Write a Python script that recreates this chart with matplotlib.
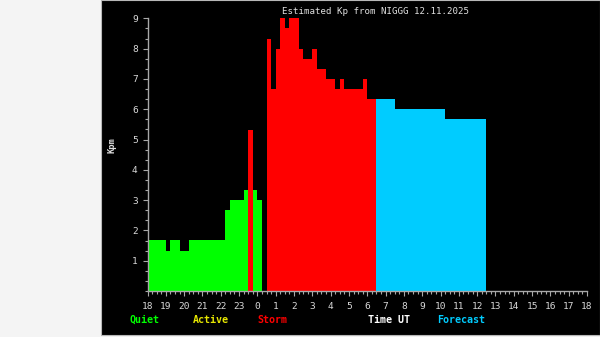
import matplotlib
matplotlib.use("Agg")
import matplotlib.pyplot as plt
from matplotlib.patches import Rectangle
from matplotlib.ticker import MultipleLocator, FixedLocator
import numpy as np

# Data: segment start/end in hours since 18:00 UT of previous day
seg_start = [0, 1, 1.25, 1.75, 2.25, 4.25, 4.5, 5.25, 5.5, 5.75, 6.0,
             6.5, 6.75, 7.0, 7.25, 7.5, 7.75, 8.25, 8.5, 9.0, 9.25, 9.75, 10.25, 10.5, 10.75, 11.75, 12.0,
             12.5, 13.5, 16.25]
seg_end = [1, 1.25, 1.75, 2.25, 4.25, 4.5, 5.25, 5.5, 5.75, 6.0, 6.25,
           6.75, 7.0, 7.25, 7.5, 7.75, 8.25, 8.5, 9.0, 9.25, 9.75, 10.25, 10.5, 10.75, 11.75, 12.0, 12.5,
           13.5, 16.25, 18.5]
kp_values = [1.67, 1.33, 1.67, 1.33, 1.67, 2.67, 3.0, 3.33, 5.33, 3.33, 3.0,
             8.33, 6.67, 8.0, 9.0, 8.67, 9.0, 8.0, 7.67, 8.0, 7.33, 7.0, 6.67, 7.0, 6.67, 7.0, 6.33,
             6.33, 6.0, 5.67]
categories = ["quiet"] * 8 + ["storm", "quiet", "quiet"] + ["storm"] * 16 + ["forecast"] * 3

xtick_labels = ["18", "19", "20", "21", "22", "23", "0", "1", "2", "3", "4", "5", "6",
                "7", "8", "9", "10", "11", "12", "13", "14", "15", "16", "17", "18"]
ytick_labels = ["1", "2", "3", "4", "5", "6", "7", "8", "9"]

title = "Estimated Kp from NIGGG 12.11.2025"
legend_items = [("Quiet", "#00ff00", 144), ("Active", "#e6e600", 211), ("Storm", "#ff0000", 272),
                ("Time UT", "#ffffff", 389), ("Forecast", "#00ccff", 461)]

colors = {"quiet": "#00ff00", "active": "#e6e600", "storm": "#ff0000", "forecast": "#00ccff"}

W, H = 600, 337
fig = plt.figure(figsize=(W / 100, H / 100), dpi=100, facecolor="#f4f4f4")
fig.patches.append(Rectangle((101 / W, 2 / H), (W - 101) / W, 335 / H, transform=fig.transFigure,
                             facecolor="black", edgecolor="#b8b8b8", linewidth=0.8, zorder=-10))

left, right = 147.5, 587.0
top, bottom = 18.3, 291.0
ax = fig.add_axes([left / W, 1 - bottom / H, (right - left) / W, (bottom - top) / H])
ax.set_zorder(5)
ax.set_facecolor("black")

starts = np.array(seg_start)
widths = np.array(seg_end) - starts
ax.bar(starts, kp_values, width=widths, align="edge",
       color=[colors[c] for c in categories], linewidth=0)

ax.set_xlim(0, 24)
ax.set_ylim(0, 9)
for s in ["top", "right"]:
    ax.spines[s].set_visible(False)
for s in ["left", "bottom"]:
    ax.spines[s].set_color("#a8a8a8")
    ax.spines[s].set_linewidth(1.0)

ax.xaxis.set_major_locator(FixedLocator(range(25)))
ax.set_xticklabels(xtick_labels)
ax.xaxis.set_minor_locator(MultipleLocator(0.25))
ax.yaxis.set_major_locator(FixedLocator(range(1, 10)))
ax.set_yticklabels(ytick_labels)
ax.yaxis.set_minor_locator(MultipleLocator(1 / 3))

ax.tick_params(axis="both", which="major", colors="#a8a8a8", labelcolor="#d8d8d8",
               labelsize=6.8, length=3.5, width=0.8)
ax.tick_params(axis="both", which="minor", colors="#a8a8a8", length=2.2, width=0.8)
ax.tick_params(axis="x", which="major", pad=4.5)
ax.tick_params(axis="y", which="major", pad=3.5)
for lab in ax.get_xticklabels() + ax.get_yticklabels():
    lab.set_family("DejaVu Sans Mono")

fig.text(376 / W, 1 - 11 / H, title, color="#e0e0e0", fontsize=6.6, family="DejaVu Sans Mono",
         ha="center", va="center")
fig.text(112 / W, 1 - 145 / H, "Kpm", color="#e0e0e0", fontsize=6.3, family="DejaVu Sans Mono",
         fontweight="bold", rotation=90, ha="center", va="center")
for txt, col, xc in legend_items:
    fig.text(xc / W, 1 - 320 / H, txt, color=col, fontsize=7.2, family="DejaVu Sans Mono",
             fontweight="bold", ha="center", va="center")

fig.savefig("out.png", dpi=100, facecolor=fig.get_facecolor())
